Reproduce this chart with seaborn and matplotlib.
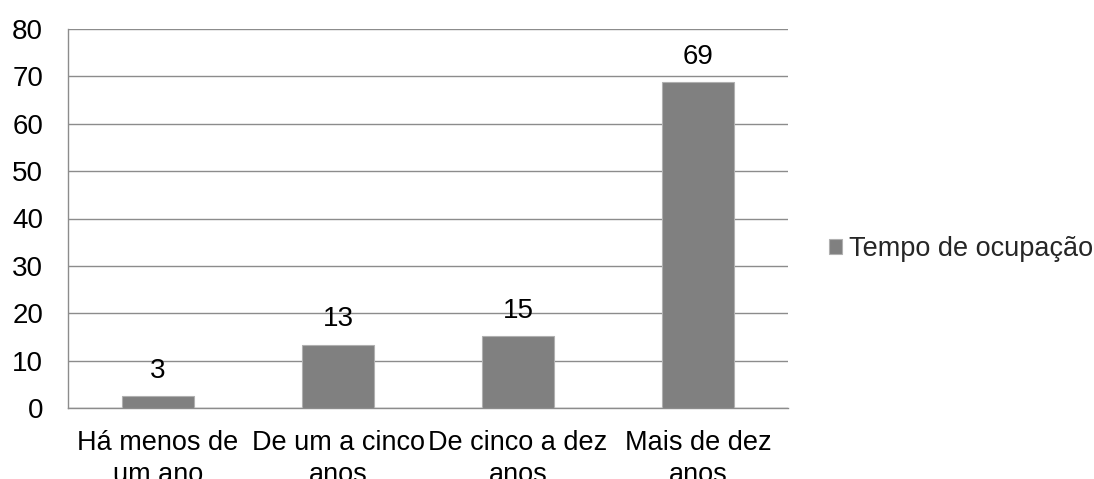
import matplotlib
matplotlib.use("Agg")
import matplotlib.pyplot as plt
import seaborn as sns
import pandas as pd

categories = ["Há menos de\num ano", "De um a cinco\nanos", "De cinco a dez\nanos", "Mais de dez\nanos"]
values = [2.5, 13.4, 15.1, 68.8]
series_name = "Tempo de ocupação"
y_ticks = [0, 10, 20, 30, 40, 50, 60, 70, 80]

sns.set_theme(style="white")
plt.rcParams["font.family"] = ["Liberation Sans", "DejaVu Sans"]

df = pd.DataFrame({"cat": categories, "val": values, "series": [series_name] * len(values)})

fig = plt.figure(figsize=(10.94, 4.79), dpi=100)
ax = fig.add_axes([68 / 1094, 1 - 408 / 479, (788 - 68) / 1094, (408 - 29) / 479])

grid_col = "#8c8c8c"
sns.barplot(data=df, x="cat", y="val", hue="series", palette=["#808080"], width=0.4,
            edgecolor="#b0b0b0", linewidth=0.8, ax=ax, zorder=3)

ax.set_xlim(-0.5, len(categories) - 0.5)
ax.set_ylim(0, 80)
ax.set_yticks(y_ticks)
ax.set_yticklabels([str(t) for t in y_ticks], fontsize=20, color="black")
ax.yaxis.grid(True, color=grid_col, linewidth=1.0, zorder=0)
ax.set_axisbelow(True)

ax.set_xticks(range(len(categories)))
ax.set_xticklabels(categories, fontsize=19.5, color="black", linespacing=1.3)
ax.set_xticks([i - 0.5 for i in range(len(categories) + 1)], minor=True)
ax.tick_params(axis="x", which="major", length=0, pad=16)
ax.tick_params(axis="x", which="minor", length=6, width=1.0, color=grid_col, direction="out")
ax.tick_params(axis="y", which="major", length=5, width=1.0, color=grid_col, direction="out", pad=13)
ax.set_xlabel("")
ax.set_ylabel("")

for s in ["top", "right"]:
    ax.spines[s].set_visible(False)
for s in ["left", "bottom"]:
    ax.spines[s].set_color(grid_col)
    ax.spines[s].set_linewidth(1.0)

for cont in ax.containers:
    ax.bar_label(cont, labels=[str(int(v + 0.5)) for v in values], padding=9, fontsize=20, color="black")

leg = ax.get_legend()
if leg is not None:
    leg.remove()
handles, labels = ax.get_legend_handles_labels()
fig.legend(handles, labels, loc="center left", bbox_to_anchor=(829 / 1094, 1 - 249 / 479),
           frameon=False, fontsize=19.5, handlelength=0.48, handleheight=0.48,
           handletextpad=0.25, borderpad=0, borderaxespad=0)

fig.savefig("out.png", dpi=100, facecolor="white")
